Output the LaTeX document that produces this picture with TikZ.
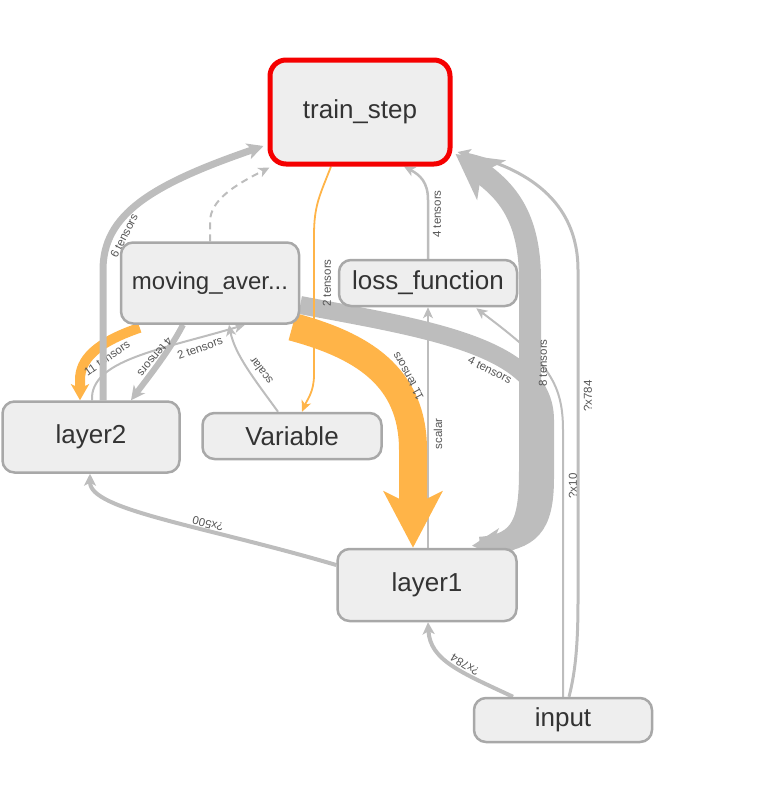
\documentclass[tikz,border=0pt]{standalone}
\usepackage{fontspec}
\setmainfont{Liberation Sans}
\usetikzlibrary{arrows.meta}
\pgfdeclarelayer{edges}
\pgfsetlayers{edges,main}
\definecolor{eg}{RGB}{189,189,189}
\definecolor{og}{RGB}{255,180,72}
\definecolor{nodefill}{RGB}{238,238,238}
\definecolor{nodeline}{RGB}{168,168,168}
\definecolor{nodetext}{RGB}{51,51,51}
\definecolor{lbl}{RGB}{85,85,85}
\definecolor{redline}{RGB}{245,0,0}
\begin{document}
\begin{tikzpicture}[x=1pt,y=-1pt,
  opnode/.style={draw=nodeline, line width=2.5pt, fill=nodefill, rounded corners=12pt,
    inner sep=0pt, text=nodetext, font=\fontsize{26}{30}\selectfont},
  elabel/.style={text=lbl, font=\fontsize{11.5}{13}\selectfont, inner sep=0pt},
  gedge/.style={draw=eg},
  oedge/.style={draw=og},
  smalltip/.style={-{Stealth[length=11pt,width=10pt,inset=3pt]}},
]
\useasboundingbox (0,0) rectangle (772,803);

% nodes
\node[opnode, minimum width=180pt, minimum height=104pt, draw=redline, line width=5pt, rounded corners=16pt] (train) at (360,112) {train\_step};
\node[opnode, minimum width=178pt, minimum height=81pt, font=\fontsize{24}{30}\selectfont] (moving) at (210,283) {moving\_aver...};
\node[opnode, minimum width=178pt, minimum height=46pt] (loss) at (428,283) {loss\_function};
\node[opnode, minimum width=177pt, minimum height=71pt] (layer2) at (91,437) {layer2};
\node[opnode, minimum width=179pt, minimum height=46pt] (variable) at (292,436) {Variable};
\node[opnode, minimum width=179pt, minimum height=72pt] (layer1) at (427,585) {layer1};
\node[opnode, minimum width=178pt, minimum height=44pt] (input) at (563,720) {input};

\begin{pgfonlayer}{edges}
% moving -> layer1 (4 tensors)
\draw[gedge, line width=18pt, -{Stealth[length=28pt,width=30pt,inset=8pt]}]
  ([yshift=-22pt]moving.east) .. controls (420,328) and (545,345) .. (545,420)
  -- (545,478) .. controls (545,528) and (530,541) .. ([xshift=45pt,yshift=2pt]layer1.north);
% layer1 -> train (8 tensors)
\draw[gedge, line width=22pt, -{Stealth[length=44pt,width=48pt,inset=12pt]}]
  ([xshift=53pt]layer1.north) .. controls (524,545) and (530,520) .. (530,470)
  -- (530,280) .. controls (530,215) and (505,190) .. ([xshift=3pt,yshift=-42pt]train.east);
% input -> train (?x784)
\draw[gedge, line width=3pt, -{Stealth[length=13pt,width=12pt,inset=3pt]}]
  ([xshift=6pt]input.north) .. controls (576,670) and (578,640) .. (578,600)
  -- (578,270) .. controls (578,200) and (525,168) .. ([xshift=5pt,yshift=-40pt]train.east);
% input -> loss (?x10)
\draw[gedge, line width=2pt, smalltip]
  (input.north) -- (563,430) .. controls (563,380) and (545,360) .. ([xshift=-42pt,yshift=-1pt]loss.south east);
% layer1 -> loss (scalar)
\draw[gedge, line width=1.5pt, smalltip] ([xshift=1pt]layer1.north) -- (loss.south);
% loss -> train (4 tensors)
\draw[gedge, line width=2.5pt, smalltip]
  (loss.north) -- (428,200) .. controls (428,182) and (420,175) .. ([xshift=44pt]train.south);
% moving -> train (dashed)
\draw[gedge, line width=2pt, dash pattern=on 7pt off 5pt, smalltip]
  (moving.north) -- (210,222) .. controls (210,200) and (235,185) .. ([xshift=2pt,yshift=-1pt]train.south west);
% moving -> layer2 (4 tensors)
\draw[gedge, line width=6pt, -{Stealth[length=14pt,width=14pt,inset=4pt]}]
  ([xshift=-27pt]moving.south) .. controls (170,350) and (150,375) .. ([xshift=40pt]layer2.north);
% layer2 -> moving (2 tensors)
\draw[gedge, line width=2pt, smalltip]
  ([xshift=1pt]layer2.north) .. controls (90,360) and (160,350) .. ([xshift=35pt]moving.south);
% Variable -> moving (scalar)
\draw[gedge, line width=2pt, smalltip]
  ([xshift=-14pt]variable.north) .. controls (255,380) and (235,355) .. ([xshift=19pt]moving.south);
% layer1 -> layer2 (?x500)
\draw[gedge, line width=4pt, -{Stealth[length=12pt,width=12pt,inset=3pt]}]
  ([yshift=20pt]layer1.west) .. controls (200,525) and (90,510) .. ([xshift=-1pt]layer2.south);
% input -> layer1 (?x784)
\draw[gedge, line width=4pt, -{Stealth[length=12pt,width=12pt,inset=3pt]}]
  ([xshift=-50pt]input.north) .. controls (460,672) and (430,660) .. ([xshift=1pt]layer1.south);
% moving -> layer1 (11 tensors, orange)
\draw[oedge, line width=28pt, -{Stealth[length=56pt,width=58pt,inset=14pt]}]
  ([xshift=-8pt,yshift=-2pt]moving.south east) .. controls (360,345) and (413,375) .. (413,450)
  -- ([xshift=-14pt]layer1.north);
% moving -> layer2 (11 tensors, orange)
\draw[oedge, line width=10pt, -{Stealth[length=16pt,width=18pt,inset=4pt]}]
  ([xshift=20pt,yshift=-3pt]moving.south west) .. controls (95,343) and (80,360) .. (80,380)
  -- ([xshift=-11pt]layer2.north);
% train -> Variable (2 tensors, orange)
\draw[oedge, line width=1.8pt, -{Stealth[length=11pt,width=10pt,inset=3pt]}]
  ([xshift=-29pt]train.south) .. controls (320,195) and (314,205) .. (314,235)
  -- (314,375) .. controls (314,392) and (307,400) .. ([xshift=10pt]variable.north);

% labels
\node[elabel, rotate=63] (l6) at (124,236) {6 tensors};
\node[elabel, rotate=90] (l2a) at (327,283) {2 tensors};
\node[elabel, rotate=90] (l4a) at (437,214) {4 tensors};
\node[elabel, rotate=90] (l8) at (543,363) {8 tensors};
\node[elabel, rotate=-27] (l4b) at (490,370) {4 tensors};
\node[elabel, rotate=90] (lx784a) at (588,396) {?x784};
\node[elabel, rotate=90] (lx10) at (573,486) {?x10};
\node[elabel, rotate=90] (lsc1) at (438,434) {scalar};
\node[elabel, rotate=119] (l11a) at (408,376) {11 tensors};
\node[elabel, rotate=35] (l11b) at (107,358) {11 tensors};
\node[elabel, rotate=-130] (l4c) at (155,357) {4 tensors};
\node[elabel, rotate=20] (l2b) at (200,348) {2 tensors};
\node[elabel, rotate=127] (lsc2) at (261,371) {scalar};
\node[elabel, rotate=166] (lx500) at (208,524) {?x500};
\node[elabel, rotate=148] (lx784b) at (465,665) {?x784};

% layer2 -> train (6 tensors)
\draw[gedge, line width=7pt, -{Stealth[length=16pt,width=16pt,inset=4pt]}]
  ([xshift=12pt]layer2.north) -- (103,270) .. controls (103,215) and (150,185) .. ([xshift=-4pt,yshift=-34pt]train.west);
\end{pgfonlayer}
\end{tikzpicture}
\end{document}
